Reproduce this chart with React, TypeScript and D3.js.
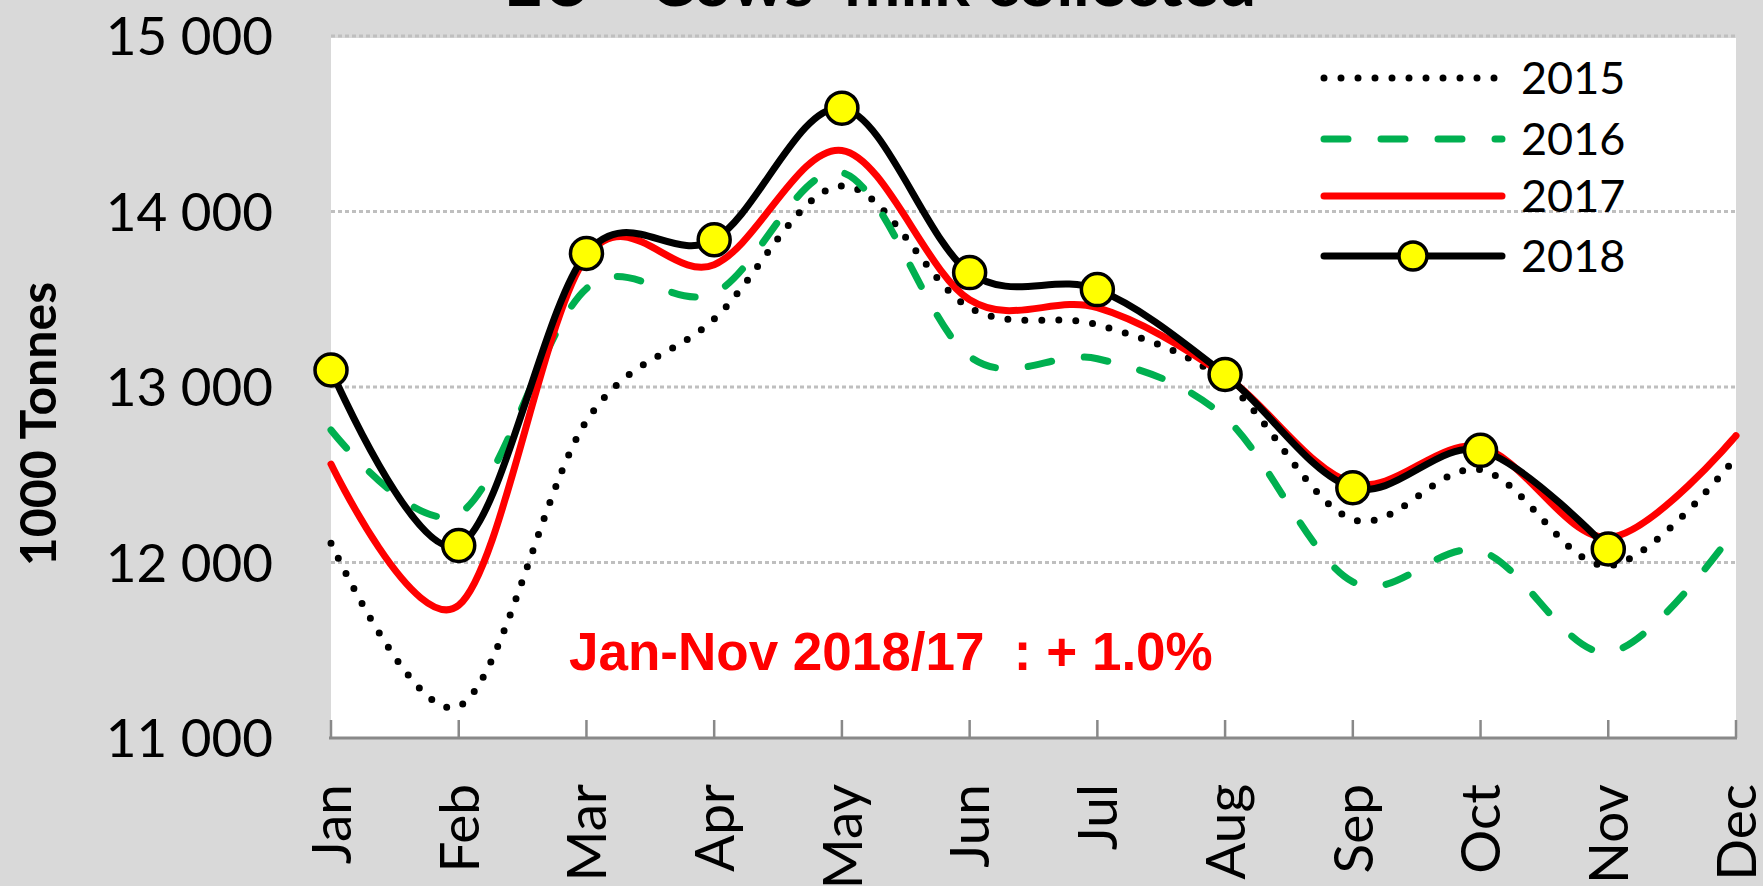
import React from "react"
import { scalePoint, scaleLinear, line, curveCardinal } from "d3"

const width = 1763;
const height = 886;
const plotLeft = 331;
const plotRight = 1736;
const plotTop = 36;
const plotBottom = 738;

const months = ["Jan", "Feb", "Mar", "Apr", "May", "Jun", "Jul", "Aug", "Sep", "Oct", "Nov", "Dec"];
const yTicks = [11000, 12000, 13000, 14000, 15000];

const values2015 = [12110, 11180, 12806, 13387, 14146, 13452, 13355, 13032, 12245, 12529, 11981, 12600];
const values2016 = [12755, 12277, 13561, 13535, 14222, 13174, 13161, 12826, 11890, 12065, 11487, 12194];
const values2017 = [12561, 11756, 13742, 13697, 14348, 13497, 13452, 13065, 12452, 12658, 12142, 12723];
const values2018 = [13097, 12097, 13761, 13839, 14589, 13652, 13555, 13071, 12426, 12639, 12077];

const x = scalePoint().domain(months).range([plotLeft, plotRight]);
const y = scaleLinear().domain([11000, 15000]).range([plotBottom, plotTop]);

const smooth = line<number>()
    .x((d, i) => x(months[i]))
    .y(d => y(d))
    .curve(curveCardinal.tension(0));

const fmt = (v: number) => String(v).replace(/(\d{2})(\d{3})$/, "$1 $2");

const series = [
    { name: "2015", data: values2015, color: "#000000", w: 7, dash: "0,17" },
    { name: "2016", data: values2016, color: "#00b050", w: 7, dash: "24,33" },
    { name: "2017", data: values2017, color: "#ff0000", w: 7, dash: null },
    { name: "2018", data: values2018, color: "#000000", w: 7, dash: null },
];

const legendY = [78, 139, 196, 256];

const Marker = ({ cx, cy, r }) => (
    <circle cx={cx} cy={cy} r={r} fill="#ffff00" stroke="#000" strokeWidth={3.5} />
)

const App = () => (
    <svg width={width} height={height} style={{ position: "absolute", left: 0, top: 0 }}
        fontFamily="Lato, 'Open Sans', sans-serif">
        <rect width={width} height={height} fill="#d9d9d9" />
        <rect x={plotLeft} y={plotTop + 2} width={plotRight - plotLeft} height={plotBottom - plotTop - 2} fill="#fff" />

        <text x={880} y={6} textAnchor="middle" fontSize={67} fontWeight="bold">EU - Cows' milk collected</text>

        {yTicks.slice(1).map(t => (
            <line key={t} x1={plotLeft} x2={plotRight} y1={y(t)} y2={y(t)}
                stroke="#bfbfbf" strokeWidth={3} strokeDasharray="4,3" />
        ))}
        {yTicks.map(t => (
            <text key={t} x={273} y={y(t)} dy="0.36em" textAnchor="end" fontSize={53}>{fmt(t)}</text>
        ))}
        <text transform={`translate(56,424) rotate(-90)`} textAnchor="middle" fontSize={50} fontWeight="bold">1000 Tonnes</text>

        <line x1={plotLeft - 2} x2={plotRight + 1} y1={plotBottom} y2={plotBottom} stroke="#898989" strokeWidth={3} />
        {months.map(m => (
            <line key={m} x1={x(m)} x2={x(m)} y1={plotBottom} y2={plotBottom - 18} stroke="#898989" strokeWidth={2.5} />
        ))}
        {months.map(m => (
            <text key={m} transform={`translate(${x(m)},784) rotate(-90)`} dy="0.36em" textAnchor="end" fontSize={55}>{m}</text>
        ))}

        {series.map(s => (
            <path key={s.name} d={smooth(s.data)} fill="none" stroke={s.color} strokeWidth={s.w}
                strokeDasharray={s.dash || undefined} strokeLinecap="round" strokeLinejoin="round" />
        ))}
        {values2018.map((v, i) => (
            <Marker key={i} cx={x(months[i])} cy={y(v)} r={16} />
        ))}

        <text x={569} y={670} fontSize={53} fontWeight="bold" fill="#ff0000"
            fontFamily="'Liberation Sans', Arial, sans-serif" style={{ whiteSpace: "pre" }}>Jan-Nov 2018/17  : + 1.0%</text>

        {series.map((s, i) => (
            <g key={s.name} transform={`translate(0,${legendY[i]})`}>
                <line x1={1324} x2={1502} y1={0} y2={0} stroke={s.color} strokeWidth={s.w}
                    strokeDasharray={s.dash || undefined} strokeLinecap="round" />
                {s.name === "2018" && <Marker cx={1413} cy={0} r={14} />}
                <text x={1521} y={0} dy="0.36em" fontSize={45}>{s.name}</text>
            </g>
        ))}
    </svg>
)
export default App
